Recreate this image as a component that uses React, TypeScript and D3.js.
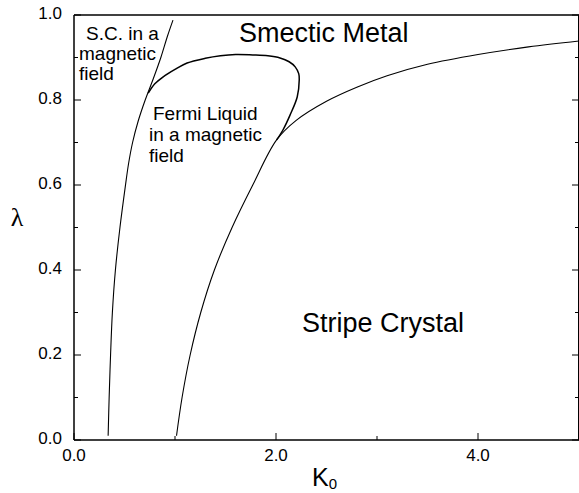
import React from "react";
import * as d3 from "d3";

const xTicksMajor = [0, 2, 4];
const xTicksMinor = [1, 3, 5];
const xTickLabels = ["0.0", "2.0", "4.0"];
const yTicksMajor = [0, 0.2, 0.4, 0.6, 0.8, 1.0];
const yTicksMinor = [0.1, 0.3, 0.5, 0.7, 0.9];
const yTickLabels = ["0.0", "0.2", "0.4", "0.6", "0.8", "1.0"];

// Superconductor boundary (left curve)
const scK = [0.338, 0.348, 0.362, 0.38, 0.41, 0.455, 0.51, 0.54, 0.58, 0.635, 0.705, 0.785, 0.86, 0.925, 0.98];
const scL = [0.01, 0.1, 0.2, 0.3, 0.4, 0.5, 0.6, 0.65, 0.7, 0.75, 0.8, 0.85, 0.9, 0.95, 0.988];

// Fermi liquid loop
const flK = [0.735, 0.8, 0.88, 1.0, 1.12, 1.3, 1.45, 1.6, 1.77, 1.92, 2.04, 2.13, 2.19, 2.225, 2.23, 2.21, 2.14, 2.07, 2.006];
const flL = [0.816, 0.838, 0.854, 0.872, 0.887, 0.898, 0.904, 0.907, 0.906, 0.904, 0.899, 0.89, 0.878, 0.862, 0.847, 0.807, 0.765, 0.73, 0.706];

// Stripe crystal boundary (right curve)
const stK = [1.015, 1.07, 1.15, 1.255, 1.39, 1.565, 1.77, 2.006, 2.2, 2.5, 2.8, 3.1, 3.5, 4.0, 4.5, 5.0];
const stL = [0.01, 0.1, 0.2, 0.3, 0.4, 0.5, 0.6, 0.706, 0.752, 0.797, 0.83, 0.857, 0.884, 0.907, 0.925, 0.939];

const W = 579;
const H = 493;
const left = 74;
const right = 579;
const top = 15;
const bottom = 440;

export default function App() {
  const x = d3.scaleLinear().domain([0, 5]).range([left, right]);
  const y = d3.scaleLinear().domain([0, 1]).range([bottom, top]);
  const line = d3
    .line<[number, number]>()
    .x((d) => x(d[0]))
    .y((d) => y(d[1]))
    .curve(d3.curveCatmullRom.alpha(0.5));
  const zip = (a: number[], b: number[]) => a.map((v, i) => [v, b[i]] as [number, number]);
  const font = "Liberation Sans, Arial, Helvetica, sans-serif";

  return (
    <svg
      width={W}
      height={H}
      style={{ position: "absolute", left: 0, top: 0, background: "#fff" }}
      fontFamily={font}
    >
      <defs>
        <clipPath id="plotclip">
          <rect x={left} y={top} width={right - left} height={bottom - top} />
        </clipPath>
      </defs>
      <rect x={0} y={0} width={W} height={H} fill="#fff" />
      {/* frame */}
      <line x1={left} x2={left} y1={top} y2={bottom} stroke="#000" strokeWidth={1.5} />
      <line x1={left} x2={right} y1={bottom} y2={bottom} stroke="#000" strokeWidth={1.5} />
      <line x1={left} x2={right} y1={top} y2={top} stroke="#000" strokeWidth={1.5} />
      <line x1={right - 0.5} x2={right - 0.5} y1={top} y2={bottom} stroke="#000" strokeWidth={1} />
      {/* y ticks */}
      {yTicksMajor.map((t) => (
        <g key={"ym" + t}>
          <line x1={left} x2={left + 7} y1={y(t)} y2={y(t)} stroke="#000" strokeWidth={1} />
          <line x1={right} x2={right - 7} y1={y(t)} y2={y(t)} stroke="#000" strokeWidth={1} />
        </g>
      ))}
      {yTicksMinor.map((t) => (
        <g key={"yn" + t}>
          <line x1={left} x2={left + 4} y1={y(t)} y2={y(t)} stroke="#000" strokeWidth={1} />
          <line x1={right} x2={right - 4} y1={y(t)} y2={y(t)} stroke="#000" strokeWidth={1} />
        </g>
      ))}
      {yTicksMajor.map((t, i) => (
        <text key={"yl" + t} x={62} y={y(t) + 4} fontSize={17} textAnchor="end">
          {yTickLabels[i]}
        </text>
      ))}
      {/* x ticks */}
      {xTicksMajor.map((t) => (
        <line key={"xm" + t} x1={x(t)} x2={x(t)} y1={bottom} y2={bottom - 7} stroke="#000" strokeWidth={1} />
      ))}
      {xTicksMinor.map((t) => (
        <line key={"xn" + t} x1={x(t)} x2={x(t)} y1={bottom} y2={bottom - 4} stroke="#000" strokeWidth={1} />
      ))}
      {xTicksMajor.map((t, i) => (
        <text key={"xl" + t} x={x(t)} y={461} fontSize={17} textAnchor="middle">
          {xTickLabels[i]}
        </text>
      ))}
      {/* axis titles */}
      <text x={312} y={486} fontSize={25}>
        K<tspan fontSize={15} dy={3}>0</tspan>
      </text>
      <text x={17} y={226} fontSize={26} fontFamily="Liberation Serif, Times New Roman, serif" textAnchor="middle">
        λ
      </text>
      {/* curves */}
      <g clipPath="url(#plotclip)" fill="none" stroke="#000">
        <path d={line(zip(scK, scL)) || ""} strokeWidth={1.1} />
        <path d={line(zip(stK, stL)) || ""} strokeWidth={1.1} />
        <path d={line(zip(flK, flL)) || ""} strokeWidth={1.5} />
      </g>
      {/* region labels */}
      <text x={239} y={42} fontSize={27}>Smectic Metal</text>
      <text x={302} y={332} fontSize={27}>Stripe Crystal</text>
      <text fontSize={19}>
        <tspan x={86} y={40}>S.C. in a</tspan>
        <tspan x={79} y={60}>magnetic</tspan>
        <tspan x={79} y={80}>field</tspan>
      </text>
      <text fontSize={19}>
        <tspan x={153} y={120}>Fermi Liquid</tspan>
        <tspan x={149} y={141}>in a magnetic</tspan>
        <tspan x={149} y={162}>field</tspan>
      </text>
    </svg>
  );
}
